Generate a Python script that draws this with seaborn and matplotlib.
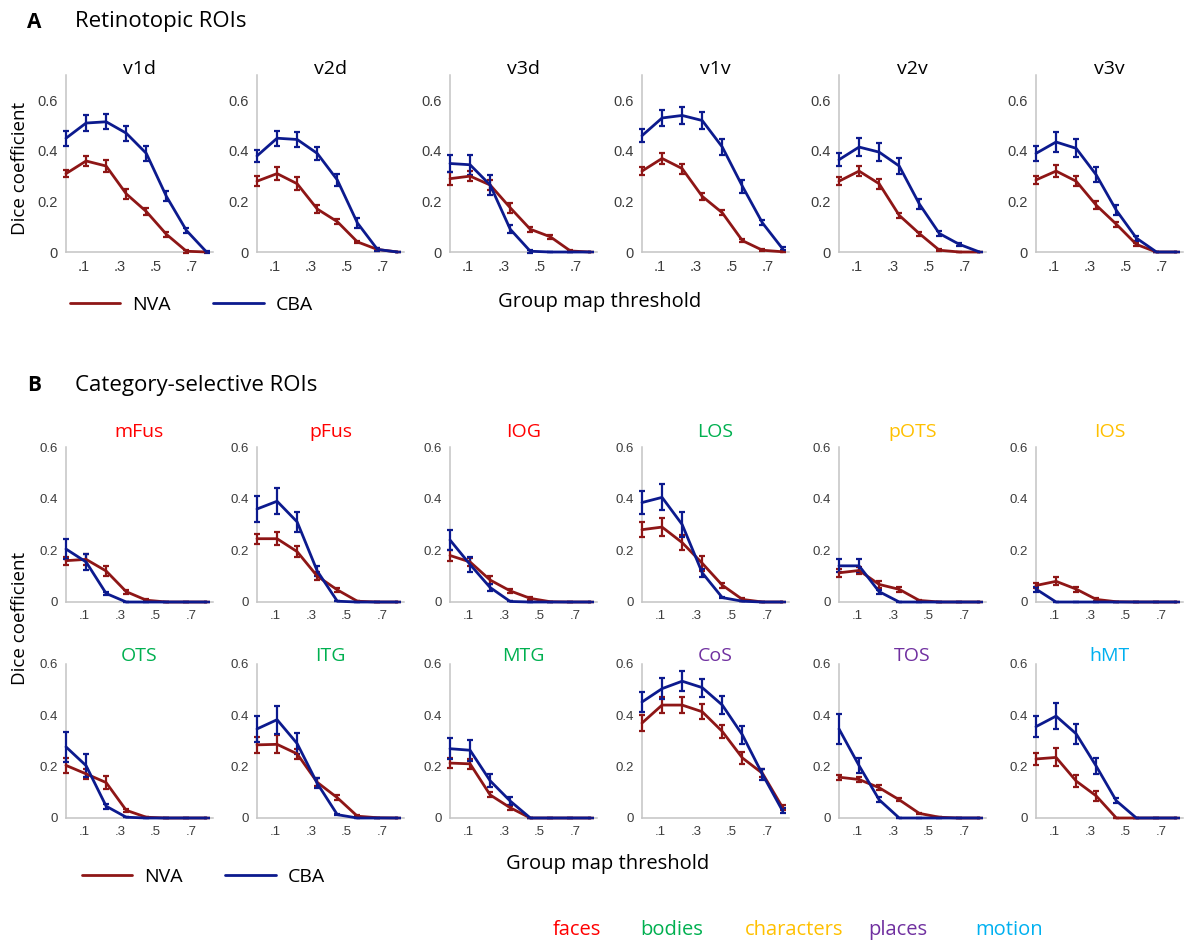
import pandas as pd
import seaborn as sns
import matplotlib.pyplot as plt
from matplotlib.lines import Line2D

# x positions of the 8 threshold steps (points sit slightly wider apart than the .1/.3 ticks)
thresholds = [0, 0.112, 0.224, 0.336, 0.448, 0.56, 0.672, 0.784]
groups = ["NVA", "CBA"]
group_colors = {"NVA": "#8E1616", "CBA": "#0C1A8E"}

# ---- Panel A: retinotopic ROIs ----
retino_rois = ["v1d", "v2d", "v3d", "v1v", "v2v", "v3v"]

v1d_nva = [0.31, 0.36, 0.34, 0.23, 0.16, 0.07, 0.003, 0.0]
v1d_nva_err = [0.015, 0.02, 0.025, 0.02, 0.015, 0.01, 0.005, 0.0]
v1d_cba = [0.45, 0.51, 0.515, 0.47, 0.39, 0.22, 0.085, 0.0]
v1d_cba_err = [0.03, 0.03, 0.03, 0.03, 0.03, 0.02, 0.01, 0.005]

v2d_nva = [0.28, 0.31, 0.27, 0.17, 0.12, 0.04, 0.01, 0.0]
v2d_nva_err = [0.02, 0.025, 0.025, 0.015, 0.01, 0.005, 0.005, 0.0]
v2d_cba = [0.38, 0.45, 0.445, 0.39, 0.285, 0.115, 0.01, 0.0]
v2d_cba_err = [0.025, 0.03, 0.03, 0.025, 0.025, 0.02, 0.005, 0.0]

v3d_nva = [0.29, 0.30, 0.265, 0.175, 0.09, 0.06, 0.004, 0.0]
v3d_nva_err = [0.025, 0.02, 0.02, 0.02, 0.01, 0.008, 0.003, 0.0]
v3d_cba = [0.35, 0.345, 0.265, 0.09, 0.003, 0.0, 0.0, 0.0]
v3d_cba_err = [0.035, 0.04, 0.04, 0.015, 0.005, 0.0, 0.0, 0.0]

v1v_nva = [0.32, 0.37, 0.33, 0.22, 0.155, 0.045, 0.007, 0.001]
v1v_nva_err = [0.015, 0.02, 0.02, 0.015, 0.01, 0.005, 0.003, 0.0]
v1v_cba = [0.46, 0.53, 0.54, 0.52, 0.415, 0.26, 0.115, 0.013]
v1v_cba_err = [0.025, 0.03, 0.035, 0.035, 0.03, 0.025, 0.01, 0.005]

v2v_nva = [0.28, 0.32, 0.27, 0.145, 0.073, 0.007, 0.0, 0.0]
v2v_nva_err = [0.015, 0.02, 0.02, 0.01, 0.008, 0.003, 0.0, 0.0]
v2v_cba = [0.365, 0.415, 0.395, 0.34, 0.19, 0.073, 0.03, 0.0]
v2v_cba_err = [0.025, 0.035, 0.035, 0.03, 0.02, 0.01, 0.005, 0.0]

v3v_nva = [0.285, 0.32, 0.28, 0.185, 0.11, 0.03, 0.0, 0.0]
v3v_nva_err = [0.015, 0.025, 0.02, 0.015, 0.01, 0.005, 0.0, 0.0]
v3v_cba = [0.39, 0.435, 0.41, 0.305, 0.165, 0.055, 0.0, 0.0]
v3v_cba_err = [0.03, 0.04, 0.035, 0.03, 0.02, 0.01, 0.0, 0.0]

# ---- Panel B: category-selective ROIs ----
category_rois = ["mFus", "pFus", "IOG", "LOS", "pOTS", "IOS",
                 "OTS", "ITG", "MTG", "CoS", "TOS", "hMT"]
category_of_roi = ["faces", "faces", "faces", "bodies", "characters", "characters",
                   "bodies", "bodies", "bodies", "places", "places", "motion"]
categories = ["faces", "bodies", "characters", "places", "motion"]
category_colors = {"faces": "#FF0000", "bodies": "#00B050", "characters": "#FFC000",
                   "places": "#7030A0", "motion": "#00B0F0"}

mFus_nva = [0.16, 0.165, 0.12, 0.04, 0.007, 0.0, 0.0, 0.0]
mFus_nva_err = [0.015, 0.02, 0.02, 0.008, 0.003, 0.0, 0.0, 0.0]
mFus_cba = [0.205, 0.155, 0.033, 0.0, 0.0, 0.0, 0.0, 0.0]
mFus_cba_err = [0.04, 0.03, 0.005, 0.0, 0.0, 0.0, 0.0, 0.0]

pFus_nva = [0.245, 0.245, 0.195, 0.10, 0.047, 0.003, 0.0, 0.0]
pFus_nva_err = [0.02, 0.025, 0.02, 0.015, 0.008, 0.0, 0.0, 0.0]
pFus_cba = [0.36, 0.39, 0.31, 0.12, 0.003, 0.0, 0.0, 0.0]
pFus_cba_err = [0.05, 0.05, 0.04, 0.02, 0.0, 0.0, 0.0, 0.0]

IOG_nva = [0.18, 0.155, 0.085, 0.043, 0.014, 0.001, 0.0, 0.0]
IOG_nva_err = [0.02, 0.015, 0.015, 0.008, 0.005, 0.0, 0.0, 0.0]
IOG_cba = [0.24, 0.145, 0.056, 0.002, 0.0, 0.0, 0.0, 0.0]
IOG_cba_err = [0.04, 0.03, 0.015, 0.0, 0.0, 0.0, 0.0, 0.0]

LOS_nva = [0.28, 0.29, 0.23, 0.15, 0.065, 0.01, 0.0, 0.0]
LOS_nva_err = [0.03, 0.035, 0.03, 0.03, 0.01, 0.005, 0.0, 0.0]
LOS_cba = [0.385, 0.405, 0.30, 0.113, 0.017, 0.003, 0.0, 0.0]
LOS_cba_err = [0.045, 0.05, 0.05, 0.015, 0.003, 0.0, 0.0, 0.0]

pOTS_nva = [0.113, 0.122, 0.068, 0.049, 0.006, 0.0, 0.0, 0.0]
pOTS_nva_err = [0.015, 0.015, 0.015, 0.01, 0.003, 0.0, 0.0, 0.0]
pOTS_cba = [0.14, 0.14, 0.04, 0.0, 0.0, 0.0, 0.0, 0.0]
pOTS_cba_err = [0.025, 0.025, 0.008, 0.0, 0.0, 0.0, 0.0, 0.0]

IOS_nva = [0.064, 0.08, 0.05, 0.01, 0.001, 0.0, 0.0, 0.0]
IOS_nva_err = [0.01, 0.015, 0.01, 0.005, 0.0, 0.0, 0.0, 0.0]
IOS_cba = [0.05, 0.0, 0.0, 0.0, 0.0, 0.0, 0.0, 0.0]
IOS_cba_err = [0.01, 0.0, 0.0, 0.0, 0.0, 0.0, 0.0, 0.0]

OTS_nva = [0.205, 0.172, 0.138, 0.03, 0.003, 0.0, 0.0, 0.0]
OTS_nva_err = [0.03, 0.02, 0.025, 0.005, 0.0, 0.0, 0.0, 0.0]
OTS_cba = [0.277, 0.204, 0.046, 0.003, 0.0, 0.0, 0.0, 0.0]
OTS_cba_err = [0.06, 0.045, 0.01, 0.0, 0.0, 0.0, 0.0, 0.0]

ITG_nva = [0.285, 0.287, 0.25, 0.139, 0.079, 0.007, 0.001, 0.0]
ITG_nva_err = [0.03, 0.035, 0.02, 0.015, 0.01, 0.003, 0.0, 0.0]
ITG_cba = [0.347, 0.383, 0.29, 0.135, 0.013, 0.0, 0.0, 0.0]
ITG_cba_err = [0.05, 0.055, 0.04, 0.02, 0.003, 0.0, 0.0, 0.0]

MTG_nva = [0.214, 0.211, 0.09, 0.04, 0.0, 0.0, 0.0, 0.0]
MTG_nva_err = [0.02, 0.02, 0.01, 0.008, 0.0, 0.0, 0.0, 0.0]
MTG_cba = [0.27, 0.264, 0.145, 0.066, 0.0, 0.0, 0.0, 0.0]
MTG_cba_err = [0.04, 0.04, 0.025, 0.015, 0.0, 0.0, 0.0, 0.0]

CoS_nva = [0.37, 0.44, 0.44, 0.414, 0.337, 0.234, 0.174, 0.041]
CoS_nva_err = [0.03, 0.03, 0.03, 0.03, 0.025, 0.025, 0.015, 0.01]
CoS_cba = [0.452, 0.504, 0.533, 0.508, 0.44, 0.324, 0.17, 0.028]
CoS_cba_err = [0.04, 0.04, 0.04, 0.035, 0.035, 0.035, 0.02, 0.01]

TOS_nva = [0.159, 0.15, 0.118, 0.071, 0.018, 0.003, 0.0, 0.0]
TOS_nva_err = [0.01, 0.01, 0.01, 0.005, 0.003, 0.0, 0.0, 0.0]
TOS_cba = [0.347, 0.204, 0.071, 0.0, 0.0, 0.0, 0.0, 0.0]
TOS_cba_err = [0.06, 0.03, 0.01, 0.0, 0.0, 0.0, 0.0, 0.0]

hMT_nva = [0.23, 0.236, 0.144, 0.086, 0.0, 0.0, 0.0, 0.0]
hMT_nva_err = [0.025, 0.035, 0.025, 0.02, 0.0, 0.0, 0.0, 0.0]
hMT_cba = [0.356, 0.397, 0.328, 0.202, 0.067, 0.0, 0.0, 0.0]
hMT_cba_err = [0.04, 0.05, 0.04, 0.03, 0.01, 0.0, 0.0, 0.0]

series = {
    "v1d": (v1d_nva, v1d_nva_err, v1d_cba, v1d_cba_err),
    "v2d": (v2d_nva, v2d_nva_err, v2d_cba, v2d_cba_err),
    "v3d": (v3d_nva, v3d_nva_err, v3d_cba, v3d_cba_err),
    "v1v": (v1v_nva, v1v_nva_err, v1v_cba, v1v_cba_err),
    "v2v": (v2v_nva, v2v_nva_err, v2v_cba, v2v_cba_err),
    "v3v": (v3v_nva, v3v_nva_err, v3v_cba, v3v_cba_err),
    "mFus": (mFus_nva, mFus_nva_err, mFus_cba, mFus_cba_err),
    "pFus": (pFus_nva, pFus_nva_err, pFus_cba, pFus_cba_err),
    "IOG": (IOG_nva, IOG_nva_err, IOG_cba, IOG_cba_err),
    "LOS": (LOS_nva, LOS_nva_err, LOS_cba, LOS_cba_err),
    "pOTS": (pOTS_nva, pOTS_nva_err, pOTS_cba, pOTS_cba_err),
    "IOS": (IOS_nva, IOS_nva_err, IOS_cba, IOS_cba_err),
    "OTS": (OTS_nva, OTS_nva_err, OTS_cba, OTS_cba_err),
    "ITG": (ITG_nva, ITG_nva_err, ITG_cba, ITG_cba_err),
    "MTG": (MTG_nva, MTG_nva_err, MTG_cba, MTG_cba_err),
    "CoS": (CoS_nva, CoS_nva_err, CoS_cba, CoS_cba_err),
    "TOS": (TOS_nva, TOS_nva_err, TOS_cba, TOS_cba_err),
    "hMT": (hMT_nva, hMT_nva_err, hMT_cba, hMT_cba_err),
}

rows = []
for roi, (nva, nva_err, cba, cba_err) in series.items():
    for g, vals, errs in (("NVA", nva, nva_err), ("CBA", cba, cba_err)):
        for t, v, e in zip(thresholds, vals, errs):
            rows.append({"roi": roi, "group": g, "threshold": t, "dice": v, "err": e})
df = pd.DataFrame(rows)

sns.set_theme(style="white")
plt.rcParams["font.family"] = ["Open Sans", "DejaVu Sans"]
plt.rcParams["text.color"] = "black"

W, H = 1184, 944
fig = plt.figure(figsize=(W / 100, H / 100), dpi=100)


def px_axes(left, top, bottom, width=147):
    return fig.add_axes([left / W, 1 - bottom / H, width / W, (bottom - top) / H])


def draw(ax, roi, ytop, labelsize, title_color, title_pad):
    sub = df[df.roi == roi]
    for g in groups:
        d = sub[sub.group == g]
        eb = ax.errorbar(d.threshold, d.dice, yerr=d.err, fmt="none",
                         ecolor=group_colors[g], elinewidth=1.6,
                         capsize=2.2, capthick=1.6, zorder=3)
        for art in eb.get_children():
            art.set_clip_on(False)
            art.set_zorder(3)
    sns.lineplot(data=sub, x="threshold", y="dice", hue="group", hue_order=groups,
                 palette=group_colors, linewidth=2, estimator=None, legend=False, ax=ax)
    for line in ax.lines:
        line.set_clip_on(False)
        line.set_zorder(3)
    ax.set_xlim(0, 0.82)
    ax.set_ylim(0, ytop)
    ax.set_xticks([0.1, 0.3, 0.5, 0.7])
    ax.set_xticklabels([".1", ".3", ".5", ".7"])
    ax.set_yticks([0, 0.2, 0.4, 0.6])
    ax.set_yticklabels(["0", "0.2", "0.4", "0.6"])
    ax.set_xlabel("")
    ax.set_ylabel("")
    sns.despine(ax=ax)
    for s in ("left", "bottom"):
        ax.spines[s].set_color("#C4C4C4")
        ax.spines[s].set_linewidth(1.1)
    ax.tick_params(direction="in", length=2.5, width=0.8, color="#C4C4C4",
                   labelcolor="#3C3C3C", labelsize=labelsize, pad=6)
    for lbl in ax.get_xticklabels() + ax.get_yticklabels():
        lbl.set_fontfamily("Liberation Sans")
    ax.set_title(roi, fontsize=14, color=title_color, pad=title_pad)


lefts = [66, 257, 450, 642, 839, 1036]

# Panel A
for roi, left in zip(retino_rois, lefts):
    ax = px_axes(left, 75, 252)
    draw(ax, roi, 0.7, 10.5, "black", 1)

# Panel B
for i, (roi, cat) in enumerate(zip(category_rois, category_of_roi)):
    left = lefts[i % 6]
    if i < 6:
        ax = px_axes(left, 447, 602)
        pad = 7
    else:
        ax = px_axes(left, 664, 818)
        pad = 2
    draw(ax, roi, 0.6, 9.5, category_colors[cat], pad)

# panel headers
fig.text(27 / W, 1 - 22 / H, "A", fontsize=15, fontweight="bold", va="center")
fig.text(75 / W, 1 - 22 / H, "Retinotopic ROIs", fontsize=16, va="center")
fig.text(27 / W, 1 - 385 / H, "B", fontsize=15, fontweight="bold", va="center")
fig.text(75 / W, 1 - 385 / H, "Category-selective ROIs", fontsize=16, va="center")

# shared axis labels
fig.text(20 / W, 1 - 168 / H, "Dice coefficient", fontsize=13.5, rotation=90,
         ha="center", va="center")
fig.text(20 / W, 1 - 618 / H, "Dice coefficient", fontsize=13.5, rotation=90,
         ha="center", va="center")
fig.text(600 / W, 1 - 302 / H, "Group map threshold", fontsize=14.5,
         ha="center", va="center")
fig.text(608 / W, 1 - 864 / H, "Group map threshold", fontsize=14.5,
         ha="center", va="center")

# NVA / CBA legends
handles = [Line2D([], [], color=group_colors[g], linewidth=2) for g in groups]
for x0, y0 in ((62, 305), (74, 877)):
    leg = fig.legend(handles, groups, loc="center left", bbox_to_anchor=(x0 / W, 1 - y0 / H),
                     ncol=2, frameon=False, fontsize=14, handlelength=2.6,
                     handletextpad=0.6, columnspacing=2.2, borderaxespad=0)
    for t in leg.get_texts():
        t.set_color("black")

# category colour key
key_x = [553, 640, 745, 868, 975]
for cat, x in zip(categories, key_x):
    fig.text(x / W, 1 - 930 / H, cat, fontsize=14.5, color=category_colors[cat],
             va="center")

fig.savefig("out.png", dpi=100)
